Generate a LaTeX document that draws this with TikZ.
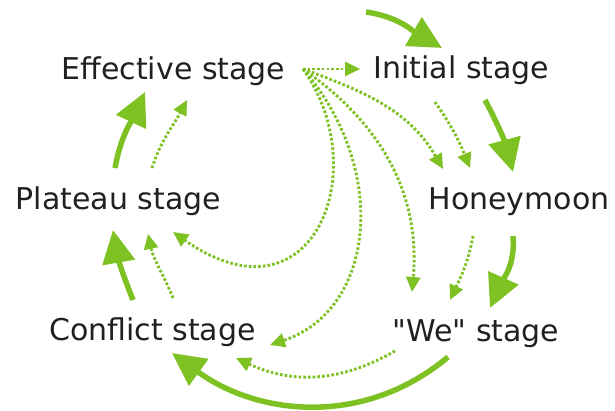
\documentclass[tikz,border=0pt]{standalone}
\usepackage{fontspec}
\newfontfamily\stagefont{DejaVu Sans}
\usetikzlibrary{arrows.meta,calc}
\definecolor{leaf}{RGB}{125,193,34}
\definecolor{ink}{RGB}{35,31,32}
\begin{document}
\begin{tikzpicture}[x=1pt,y=-1pt,
  stage/.style={text=ink, font=\stagefont\fontsize{30}{36}\selectfont, inner sep=0pt,
                text height=23pt, text depth=7pt},
  mainflow/.style={draw=leaf, line width=5.5pt,
                   -{Triangle[length=33pt,width=32pt]}},
  sideflow/.style={draw=leaf, line width=2.9pt, dash pattern=on 2.6pt off 2.1pt,
                   -{Triangle[length=15pt,width=14pt]}}]
\useasboundingbox (0,0) rectangle (615,411);

% stages of the cycle
\node[stage] (eff) at (173.5,72)  {Effective stage};
\node[stage] (ini) at (461.5,71)  {Initial stage};
\node[stage] (pla) at (118.5,202) {Plateau stage};
\node[stage] (hon) at (519,202)   {Honeymoon};
\node[stage] (con) at (152.5,332) {Conflict stage};
\node[stage] (we)  at (476,333)   {"We" stage};

\coordinate (entry) at (366,12);
\coordinate (fan) at ($(eff)+(129.5,-3)$);

% main cycle
\draw[mainflow] (entry) to[out=-8,in=150] ($(ini)+(-19.5,-23)$);
\draw[mainflow] ($(ini)+(23.5,29)$) to[out=-62,in=105] ($(hon)+(-6,-30)$);
\draw[mainflow] ($(hon)+(-6,34)$) to[out=-85,in=66] ($(we)+(14,-25)$);
\draw[mainflow] ($(we)+(-28,24)$) to[out=-140,in=-36] ($(con)+(19.5,21)$);
\draw[mainflow] ($(con)+(-19.5,-32)$) to[out=112,in=-80] ($(pla)+(-5.5,28)$);
\draw[mainflow] ($(pla)+(-3.5,-34)$) to[out=80,in=-115] ($(eff)+(-28.5,20)$);

% shortcuts
\draw[sideflow] (fan) -- ($(ini)+(-101.5,-2)$);
\draw[sideflow] (fan) to[out=-20,in=120] ($(hon)+(-76,-33)$);
\draw[sideflow] ($(ini)+(-26.5,31)$) to[out=-55,in=112] ($(hon)+(-49,-34)$);
\draw[sideflow] (fan) to[out=-35,in=85] ($(we)+(-64,-41)$);
\draw[sideflow] (fan) .. controls ($(fan)+(87,101)$) and ($(fan)+(72,241)$)
                      .. ($(con)+(117.5,13)$);
\draw[sideflow] (fan) .. controls ($(fan)+(72,101)$) and ($(fan)+(10,261)$)
                      .. ($(pla)+(54.5,30)$);
\draw[sideflow] ($(hon)+(-46,34)$) to[out=-100,in=65] ($(we)+(-26,-33)$);
\draw[sideflow] ($(we)+(-81,18)$) to[out=-150,in=-25] ($(con)+(83.5,26)$);
\draw[sideflow] ($(con)+(20.5,-34)$) to[out=112,in=-78] ($(pla)+(29.5,32)$);
\draw[sideflow] ($(pla)+(33.5,-34)$) to[out=72,in=-118] ($(eff)+(13.5,28)$);
\end{tikzpicture}
\end{document}
